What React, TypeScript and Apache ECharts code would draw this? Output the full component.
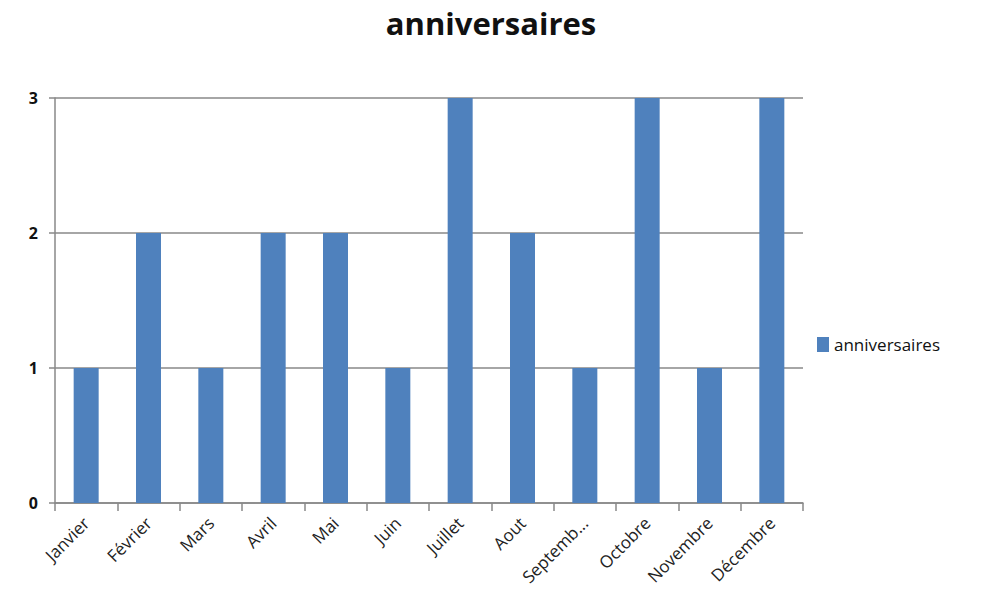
import React, { useEffect, useRef } from "react";
import * as echarts from "echarts";

const categories = ["Janvier", "Février", "Mars", "Avril", "Mai", "Juin", "Juillet", "Aout", "Septembre", "Octobre", "Novembre", "Décembre"];
const values = [1, 2, 1, 2, 2, 1, 3, 2, 1, 3, 1, 3];
const seriesName = "anniversaires";
const titleText = "anniversaires";

export default function App() {
  const ref = useRef<HTMLDivElement>(null);
  useEffect(() => {
    if (!ref.current) return;
    const chart = echarts.init(ref.current, undefined, { renderer: "svg" });
    const font = "'Open Sans', sans-serif";
    chart.setOption({
      animation: false,
      backgroundColor: "#ffffff",
      title: {
        text: titleText,
        left: "center",
        top: 2,
        textStyle: { fontFamily: font, fontWeight: "bold", fontSize: 31, color: "#111" },
      },
      legend: {
        orient: "vertical",
        left: 812,
        top: 331,
        itemWidth: 12,
        itemHeight: 15,
        itemGap: 4,
        icon: "rect",
        textStyle: { fontFamily: font, fontSize: 17, color: "#111" },
        data: [seriesName],
      },
      grid: { left: 55, right: 179, top: 98, bottom: 111, containLabel: false },
      xAxis: {
        type: "category",
        data: categories,
        axisLine: { lineStyle: { color: "#888", width: 1.5 } },
        axisTick: { show: true, length: 8, lineStyle: { color: "#888", width: 1.5 } },
        axisLabel: {
          rotate: 45,
          interval: 0,
          margin: 17,
          fontFamily: font,
          fontSize: 17,
          color: "#222",
          formatter: (v: string) => (v === "Septembre" ? "Septemb..." : v),
        },
      },
      yAxis: {
        type: "value",
        min: 0,
        max: 3,
        interval: 1,
        axisLine: { show: true, lineStyle: { color: "#888", width: 1.5 } },
        axisTick: { show: true, length: 6, lineStyle: { color: "#888", width: 1.5 } },
        axisLabel: { fontFamily: font, fontSize: 16, fontWeight: "bold", color: "#111", margin: 17 },
        splitLine: { lineStyle: { color: "#888", width: 1.5 } },
      },
      series: [
        {
          name: seriesName,
          type: "bar",
          data: values,
          barWidth: 25,
          itemStyle: { color: "#4F81BD" },
        },
      ],
    });
    return () => chart.dispose();
  }, []);
  return <div ref={ref} style={{ position: "fixed", left: 0, top: 0, width: 982, height: 614 }} />;
}
